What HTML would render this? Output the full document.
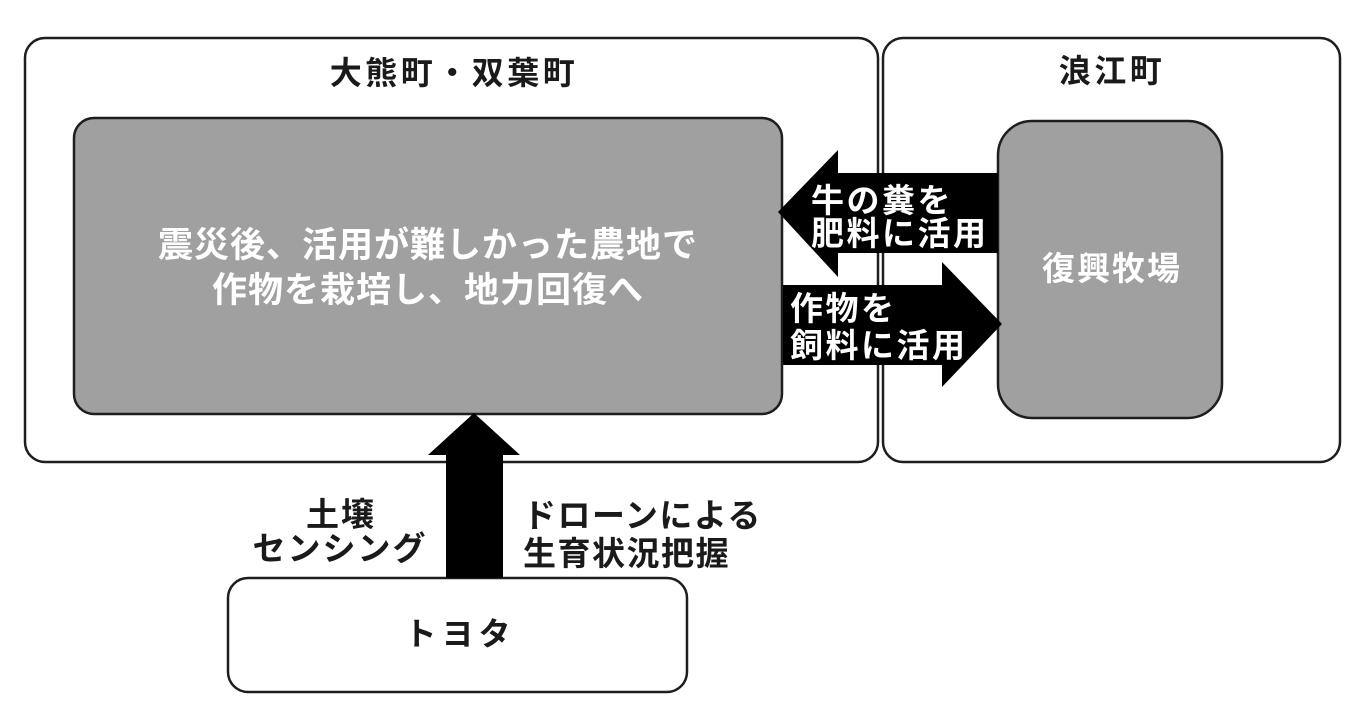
<!DOCTYPE html>
<html>
<head>
<meta charset="utf-8">
<style>
  html,body{margin:0;padding:0;background:#fff;}
  body{width:1356px;height:716px;overflow:hidden;}
  svg{display:block;}
  text{font-family:"Liberation Sans","Noto Sans CJK JP",sans-serif;font-weight:700;}
</style>
</head>
<body>
<svg width="1356" height="716" viewBox="0 0 1356 716" xmlns="http://www.w3.org/2000/svg">
  <rect x="0" y="0" width="1356" height="716" fill="#ffffff"/>

  <!-- outer boxes -->
  <rect x="25" y="38" width="853" height="424" rx="20" ry="20" fill="#ffffff" stroke="#1e1e1e" stroke-width="2.5"/>
  <rect x="883" y="38" width="457" height="424" rx="20" ry="20" fill="#ffffff" stroke="#1e1e1e" stroke-width="2.5"/>

  <!-- gray inner boxes -->
  <rect x="74" y="118" width="708" height="296" rx="20" ry="20" fill="#a0a0a0" stroke="#1e1e1e" stroke-width="2.5"/>
  <rect x="998" y="121" width="224" height="297" rx="34" ry="34" fill="#a0a0a0" stroke="#1e1e1e" stroke-width="2.5"/>

  <!-- Toyota box -->
  <rect x="228" y="578" width="459" height="114" rx="20" ry="20" fill="#ffffff" stroke="#1e1e1e" stroke-width="2.5"/>

  <!-- arrows -->
  <polygon points="778,212 838,150 838,173 998,173 998,253 838,253 838,277" fill="#000"/>
  <polygon points="1002,324 942,262 942,285 783,285 783,365 942,365 942,387" fill="#000"/>
  <polygon points="474,413 520,455 503,455 503,578 446,578 446,455 428,455" fill="#000"/>

  <!-- titles -->
  <text x="454" y="84" font-size="32" letter-spacing="3.5" text-anchor="middle" fill="#1a1a1a">大熊町・双葉町</text>
  <text x="1112" y="82" font-size="32" letter-spacing="3.5" text-anchor="middle" fill="#1a1a1a">浪江町</text>

  <!-- main text -->
  <text x="428" y="257" font-size="35" letter-spacing="1" text-anchor="middle" fill="#ffffff">震災後、活用が難しかった農地で</text>
  <text x="428" y="302" font-size="35" letter-spacing="1" text-anchor="middle" fill="#ffffff">作物を栽培し、地力回復へ</text>

  <!-- right gray text -->
  <text x="1112" y="280" font-size="33" letter-spacing="2" text-anchor="middle" fill="#ffffff">復興牧場</text>

  <!-- arrow labels -->
  <text x="811" y="212" font-size="33" letter-spacing="2.5" fill="#ffffff">牛の糞を</text>
  <text x="811" y="245" font-size="33" letter-spacing="2.5" fill="#ffffff">肥料に活用</text>
  <text x="790" y="320" font-size="33" letter-spacing="2.5" fill="#ffffff">作物を</text>
  <text x="790" y="357" font-size="33" letter-spacing="2.5" fill="#ffffff">飼料に活用</text>

  <!-- bottom labels -->
  <text x="341" y="526" font-size="33" letter-spacing="2" text-anchor="middle" fill="#1a1a1a">土壌</text>
  <text x="340" y="560" font-size="33" letter-spacing="2" text-anchor="middle" fill="#1a1a1a">センシング</text>
  <text x="523" y="527" font-size="33" letter-spacing="1.5" fill="#1a1a1a">ドローンによる</text>
  <text x="523" y="565" font-size="33" letter-spacing="1.5" fill="#1a1a1a">生育状況把握</text>

  <!-- Toyota -->
  <text x="460" y="645" font-size="32" letter-spacing="5" text-anchor="middle" fill="#1a1a1a">トヨタ</text>
</svg>
</body>
</html>
